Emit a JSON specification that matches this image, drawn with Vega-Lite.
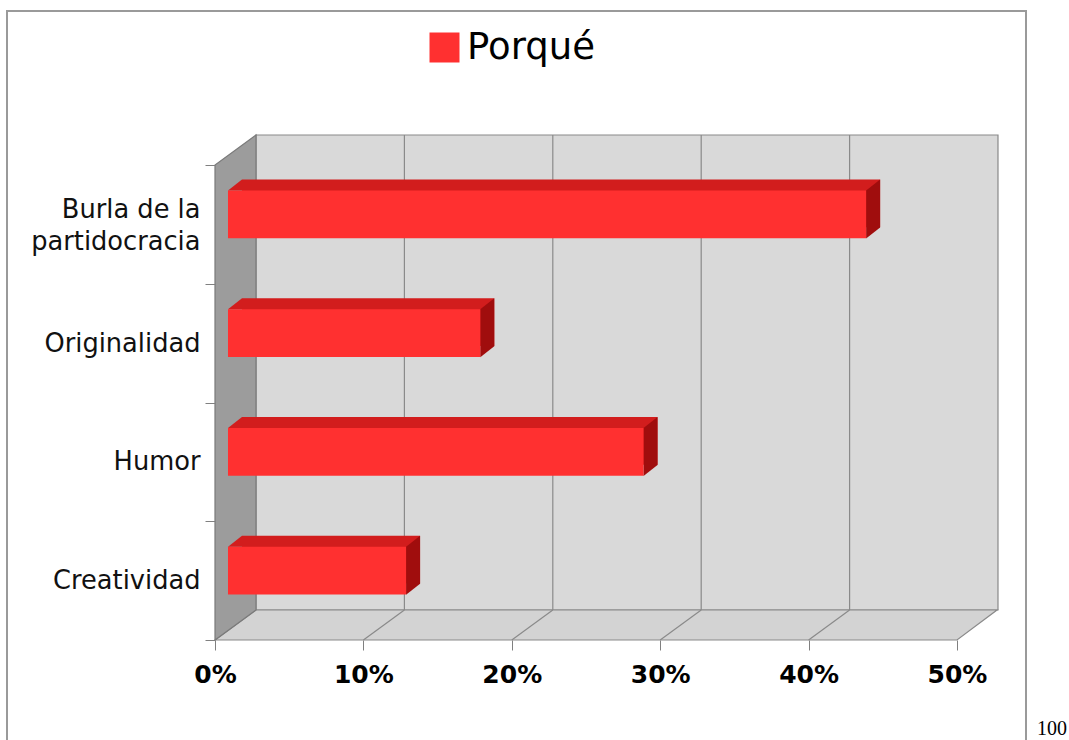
{
  "$schema": "https://vega.github.io/schema/vega-lite/v6.json",
  "width": 1019,
  "height": 731,
  "autosize": {"type": "none"},
  "padding": {"left": 7, "top": 11, "right": 43, "bottom": 0},
  "background": "white",
  "config": {
    "view": {"stroke": "#9a9a9a", "strokeWidth": 2},
    "font": "DejaVu Sans"
  },
  "data": {
    "values": [
      {"motivo": "Burla de la partidocracia", "pct": 43},
      {"motivo": "Originalidad", "pct": 17},
      {"motivo": "Humor", "pct": 28},
      {"motivo": "Creatividad", "pct": 12}
    ]
  },
  "layer": [
    {
      "data": {"values": [{"a": 1}]},
      "mark": {"type": "rect", "fill": "#d9d9d9", "stroke": "#8a8a8a", "strokeWidth": 1.2, "xOffset": 41, "x2Offset": 41, "yOffset": -30, "y2Offset": -30},
      "encoding": {
        "x": {"datum": 0, "type": "quantitative", "scale": {"domain": [-14.016, 54.65], "nice": false, "zero": false}, "axis": {"values": [0, 10, 20, 30, 40, 50], "labelExpr": "datum.value + '%'", "labelFont": "DejaVu Sans", "labelFontWeight": "bold", "labelFontSize": 25, "labelColor": "#000000", "tickSize": 10, "tickColor": "#808080", "domain": false, "grid": false, "offset": -102, "labelPadding": 12, "title": null, "labelFlush": false}},
        "x2": {"datum": 50},
        "y": {"datum": "Burla de la partidocracia", "type": "nominal", "bandPosition": 0, "scale": {"type": "band", "domain": ["Burla de la partidocracia", "Originalidad", "Humor", "Creatividad"], "range": [154, 629], "paddingInner": 0, "paddingOuter": 0}, "axis": {"domain": false, "grid": false, "tickBand": "extent", "tickSize": 10, "tickColor": "#808080", "labelFont": "DejaVu Sans", "labelFontSize": 25.7, "labelColor": "#111111", "labelPadding": 5, "offset": -208, "title": null, "labelLineHeight": 32, "labelOffset": {"condition": {"test": "datum.value == 'Burla de la partidocracia'", "value": -15}, "value": 0}, "labelExpr": "datum.value == 'Burla de la partidocracia' ? ['Burla de la', 'partidocracia'] : datum.value"}},
        "y2": {"datum": "Creatividad", "bandPosition": 1}
      }
    },
    {
      "data": {"values": [{"t": 10}, {"t": 20}, {"t": 30}, {"t": 40}]},
      "mark": {"type": "rule", "color": "#8a8a8a", "strokeWidth": 1.2, "xOffset": 41, "yOffset": -30, "y2Offset": -30},
      "encoding": {
        "x": {"field": "t", "type": "quantitative"},
        "y": {"datum": "Burla de la partidocracia", "type": "nominal", "bandPosition": 0},
        "y2": {"datum": "Creatividad", "bandPosition": 1}
      }
    },
    {
      "data": {"values": [{"a": 1}]},
      "mark": {"type": "point", "shape": "M0,0 L742,0 L782,-30 L41,-30 Z", "size": 4, "filled": true, "fill": "#d3d3d3", "stroke": "#8a8a8a", "strokeWidth": 1.2, "opacity": 1},
      "encoding": {
        "x": {"datum": 0, "type": "quantitative"},
        "y": {"datum": "Creatividad", "type": "nominal", "bandPosition": 1}
      }
    },
    {
      "data": {"values": [{"t": 10}, {"t": 20}, {"t": 30}, {"t": 40}]},
      "mark": {"type": "rule", "color": "#8a8a8a", "strokeWidth": 1.2, "x2Offset": 41, "y2Offset": -30},
      "encoding": {
        "x": {"field": "t", "type": "quantitative"},
        "x2": {"field": "t"},
        "y": {"datum": "Creatividad", "type": "nominal", "bandPosition": 1},
        "y2": {"datum": "Creatividad", "bandPosition": 1}
      }
    },
    {
      "data": {"values": [{"a": 1}]},
      "mark": {"type": "point", "shape": "M0,0 L0,-475 L41,-505 L41,-30 Z", "size": 4, "filled": true, "fill": "#9c9c9c", "stroke": "#7a7a7a", "strokeWidth": 1.2, "opacity": 1},
      "encoding": {
        "x": {"datum": 0, "type": "quantitative"},
        "y": {"datum": "Creatividad", "type": "nominal", "bandPosition": 1}
      }
    },
    {
      "mark": {"type": "bar", "color": "#d21d1d", "height": {"band": 0.404}, "xOffset": 27, "x2Offset": 27, "yOffset": -21},
      "encoding": {
        "x": {"field": "pct", "type": "quantitative"},
        "x2": {"datum": 0},
        "y": {"field": "motivo", "type": "nominal"}
      }
    },
    {
      "mark": {"type": "point", "shape": "M13,-34 L27,-45 L27,3 L13,14 Z", "size": 4, "filled": true, "fill": "#a00d0d", "strokeWidth": 0, "opacity": 1},
      "encoding": {
        "x": {"field": "pct", "type": "quantitative"},
        "y": {"field": "motivo", "type": "nominal"}
      }
    },
    {
      "mark": {"type": "point", "shape": "M13,-34 L27,-45 L27,-34 Z", "size": 4, "filled": true, "fill": "#d21d1d", "strokeWidth": 0, "opacity": 1},
      "encoding": {
        "x": {"datum": 0, "type": "quantitative"},
        "y": {"field": "motivo", "type": "nominal"}
      }
    },
    {
      "mark": {"type": "bar", "height": {"band": 0.404}, "xOffset": 13, "x2Offset": 13, "yOffset": -10},
      "encoding": {
        "x": {"field": "pct", "type": "quantitative"},
        "x2": {"datum": 0},
        "y": {"field": "motivo", "type": "nominal"},
        "color": {"datum": "Porqué", "type": "nominal", "scale": {"range": ["#ff3030"]}, "legend": {"orient": "none", "legendX": 419, "legendY": 18, "title": null, "symbolType": "square", "symbolSize": 900, "symbolStrokeWidth": 0, "symbolOpacity": 1, "labelFont": "DejaVu Sans", "labelFontSize": 37, "labelColor": "#000000", "labelOffset": 4, "padding": 0, "labelLimit": 400}}
      }
    },
    {
      "data": {"values": [{"p": "100"}]},
      "mark": {"type": "text", "font": "Liberation Serif", "fontSize": 20, "color": "#000000", "align": "center", "baseline": "alphabetic", "dx": 95, "dy": 95},
      "encoding": {
        "x": {"datum": 50, "type": "quantitative"},
        "y": {"datum": "Creatividad", "type": "nominal", "bandPosition": 1},
        "text": {"field": "p"}
      }
    }
  ]
}
